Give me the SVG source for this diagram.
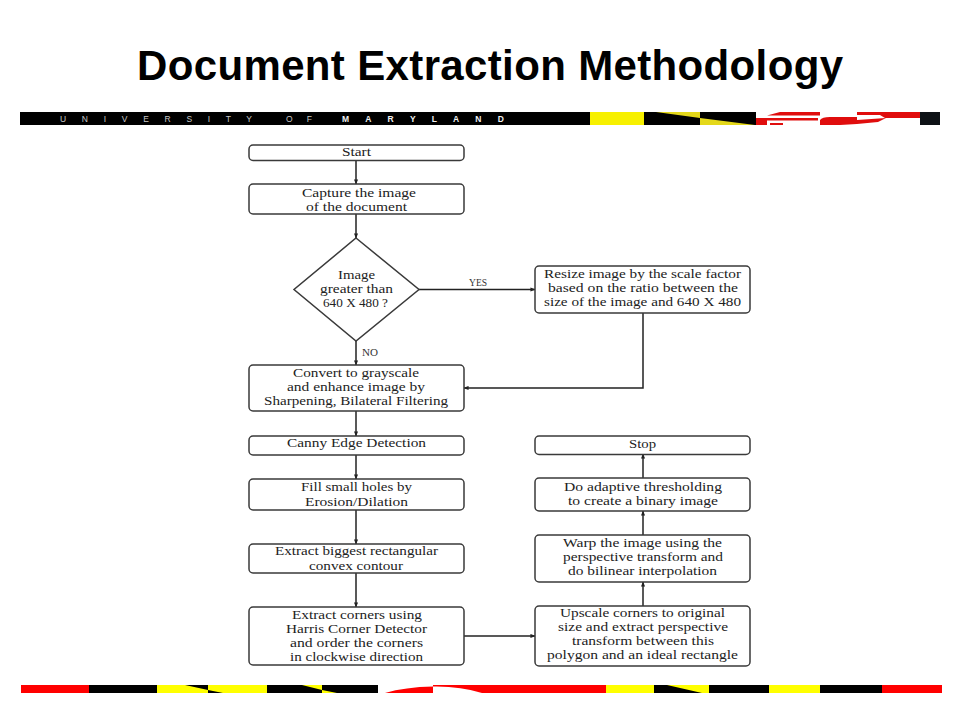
<svg xmlns="http://www.w3.org/2000/svg" width="960" height="720" viewBox="0 0 960 720">
<style>
.box{fill:#fff;stroke:#3a3a3a;stroke-width:1.5}
.t{font-family:"Liberation Serif","Times New Roman",serif;font-size:13px;fill:#222}
.s{font-family:"Liberation Serif","Times New Roman",serif;font-size:9.5px;fill:#333}
.c{fill:none;stroke:#222;stroke-width:1.5;marker-end:url(#a)}
.u{font-family:"Liberation Sans",Arial,sans-serif;font-size:8.500px;fill:#c8c8c8}
.m{font-weight:700;fill:#f0f0f0}
</style>
<defs>
<marker id="a" viewBox="0 0 6 6" refX="5.5" refY="3" markerUnits="userSpaceOnUse" markerWidth="5" markerHeight="5" orient="auto"><path d="M0 0.500L6 3L0 5.500Z" fill="#222"/></marker>
</defs>
<rect width="960" height="720" fill="#fff"/>
<text x="137" y="80" textLength="706" style="font-family:'Liberation Sans',Arial,sans-serif;font-weight:700;font-size:42px;fill:#000">Document Extraction Methodology</text>

<g id="top-banner">
<rect x="20" y="112" width="920" height="13" fill="#000"/>
<text class="u" x="60" y="122" textLength="192" xml:space="preserve">U N I V E R S I T Y</text>
<text class="u" x="286" y="122" textLength="26" xml:space="preserve">O F</text>
<text class="u m" x="342" y="122" textLength="162" xml:space="preserve">M A R Y L A N D</text>
<rect x="590" y="112" width="54" height="13" fill="#f7f000"/>
<path d="M656 112H700V118ZM700 118L755 125H700Z" fill="#e4d81a"/>
<rect x="756" y="112" width="164" height="13" fill="#fff"/>
<path d="M767 115.500L780 112H820V115.500ZM756 118H818V120.500H767V125H756ZM770 123H783V125H770ZM820 125V120Q822 117 830 117H857V124L840 125ZM857 112H920V118H885L880 115H857ZM857 120L886 118L878 122L857 124Z" fill="#e00d0d"/>
<rect x="920" y="112" width="20" height="13" fill="#0e1216"/>
</g>

<g id="bottom-banner">
<rect x="21" y="685" width="921" height="8" fill="#f00"/>
<rect x="89" y="685" width="68" height="8" fill="#000"/>
<rect x="157" y="685" width="110" height="8" fill="#ff0"/>
<path d="M185 685H208V690ZM208 690L223 693H208Z" fill="#000"/>
<rect x="267" y="685" width="111" height="8" fill="#000"/>
<path d="M302 685H322V690ZM322 690L337 693H322Z" fill="#ff0"/>
<path d="M378 685H433V686.500Q405 687 385 693H378Z" fill="#fff"/>
<path d="M433 686.500Q460 686 482 693H433Z" fill="#fff"/>
<rect x="606" y="685" width="48" height="8" fill="#ff0"/>
<rect x="654" y="685" width="55" height="8" fill="#000"/>
<path d="M667 685H709V693H702Z" fill="#ff0"/>
<rect x="709" y="685" width="60" height="8" fill="#000"/>
<rect x="769" y="685" width="51" height="8" fill="#ff0"/>
<rect x="820" y="685" width="62" height="8" fill="#000"/>
</g>

<g id="connectors">
<path class="c" d="M356 160V184"/>
<path class="c" d="M356 214V238"/>
<path class="c" d="M356 341V365"/>
<path class="c" d="M419 289.500H535"/>
<path class="c" d="M643 313V388H464"/>
<path class="c" d="M356 411V436"/>
<path class="c" d="M356 455V479"/>
<path class="c" d="M356 510V544"/>
<path class="c" d="M356 573V607"/>
<path class="c" d="M464 636H535"/>
<path class="c" d="M643 606V582"/>
<path class="c" d="M643 535V511"/>
<path class="c" d="M643 478V454"/>
<text class="s" x="469" y="286" textLength="18" lengthAdjust="spacingAndGlyphs">YES</text>
<text class="s" x="362" y="356" textLength="16" lengthAdjust="spacingAndGlyphs">NO</text>
</g>

<g id="start"><rect class="box" x="249" y="145" width="215" height="15.500" rx="4"/><text class="t" x="342" y="156" textLength="29" lengthAdjust="spacingAndGlyphs">Start</text></g>
<g id="capture"><rect class="box" x="249" y="184" width="215" height="30" rx="4"/><text class="t" x="302" y="197" textLength="114" lengthAdjust="spacingAndGlyphs">Capture the image</text><text class="t" x="306" y="210.500" textLength="101" lengthAdjust="spacingAndGlyphs">of the document</text></g>
<g id="decision"><path class="box" d="M356 238L419 289.500L356 341L294 289.500Z"/><text class="t" x="338" y="279" textLength="37" lengthAdjust="spacingAndGlyphs">Image</text><text class="t" x="320" y="293" textLength="73" lengthAdjust="spacingAndGlyphs">greater than</text><text class="t" x="323" y="307" textLength="65" lengthAdjust="spacingAndGlyphs">640 X 480 ?</text></g>
<g id="resize"><rect class="box" x="535" y="266" width="215" height="47" rx="4"/><text class="t" x="544" y="278" textLength="197" lengthAdjust="spacingAndGlyphs">Resize image by the scale factor</text><text class="t" x="548" y="292" textLength="190" lengthAdjust="spacingAndGlyphs">based on the ratio between the</text><text class="t" x="544" y="306" textLength="197" lengthAdjust="spacingAndGlyphs">size of the image and 640 X 480</text></g>
<g id="convert"><rect class="box" x="249" y="365" width="215" height="46" rx="4"/><text class="t" x="293" y="377" textLength="126" lengthAdjust="spacingAndGlyphs">Convert to grayscale</text><text class="t" x="287" y="391" textLength="138" lengthAdjust="spacingAndGlyphs">and enhance image by</text><text class="t" x="264" y="405" textLength="184" lengthAdjust="spacingAndGlyphs">Sharpening, Bilateral Filtering</text></g>
<g id="canny"><rect class="box" x="249" y="436" width="215" height="19" rx="4"/><text class="t" x="287" y="447" textLength="139" lengthAdjust="spacingAndGlyphs">Canny Edge Detection</text></g>
<g id="fill"><rect class="box" x="249" y="479" width="215" height="31" rx="4"/><text class="t" x="301" y="491" textLength="111" lengthAdjust="spacingAndGlyphs">Fill small holes by</text><text class="t" x="305" y="506" textLength="103" lengthAdjust="spacingAndGlyphs">Erosion/Dilation</text></g>
<g id="contour"><rect class="box" x="249" y="544" width="215" height="29" rx="4"/><text class="t" x="275" y="555" textLength="163" lengthAdjust="spacingAndGlyphs">Extract biggest rectangular</text><text class="t" x="309" y="570" textLength="94" lengthAdjust="spacingAndGlyphs">convex contour</text></g>
<g id="corners"><rect class="box" x="249" y="607" width="215" height="58" rx="4"/><text class="t" x="292" y="619" textLength="130" lengthAdjust="spacingAndGlyphs">Extract corners using</text><text class="t" x="286" y="633" textLength="141" lengthAdjust="spacingAndGlyphs">Harris Corner Detector</text><text class="t" x="290" y="647" textLength="133" lengthAdjust="spacingAndGlyphs">and order the corners</text><text class="t" x="290" y="661" textLength="133" lengthAdjust="spacingAndGlyphs">in clockwise direction</text></g>
<g id="stop"><rect class="box" x="535" y="436" width="215" height="18.500" rx="4"/><text class="t" x="629" y="448" textLength="27" lengthAdjust="spacingAndGlyphs">Stop</text></g>
<g id="threshold"><rect class="box" x="535" y="478" width="215" height="33" rx="4"/><text class="t" x="564" y="491" textLength="158" lengthAdjust="spacingAndGlyphs">Do adaptive thresholding</text><text class="t" x="568" y="504.500" textLength="150" lengthAdjust="spacingAndGlyphs">to create a binary image</text></g>
<g id="warp"><rect class="box" x="535" y="535" width="215" height="47" rx="4"/><text class="t" x="563" y="547" textLength="159" lengthAdjust="spacingAndGlyphs">Warp the image using the</text><text class="t" x="563" y="561" textLength="160" lengthAdjust="spacingAndGlyphs">perspective transform and</text><text class="t" x="568" y="575" textLength="149" lengthAdjust="spacingAndGlyphs">do bilinear interpolation</text></g>
<g id="upscale"><rect class="box" x="535" y="606" width="215" height="60" rx="4"/><text class="t" x="560" y="617" textLength="165" lengthAdjust="spacingAndGlyphs">Upscale corners to original</text><text class="t" x="558" y="631" textLength="170" lengthAdjust="spacingAndGlyphs">size and extract perspective</text><text class="t" x="572" y="645" textLength="142" lengthAdjust="spacingAndGlyphs">transform between this</text><text class="t" x="547" y="659" textLength="191" lengthAdjust="spacingAndGlyphs">polygon and an ideal rectangle</text></g>
</svg>
